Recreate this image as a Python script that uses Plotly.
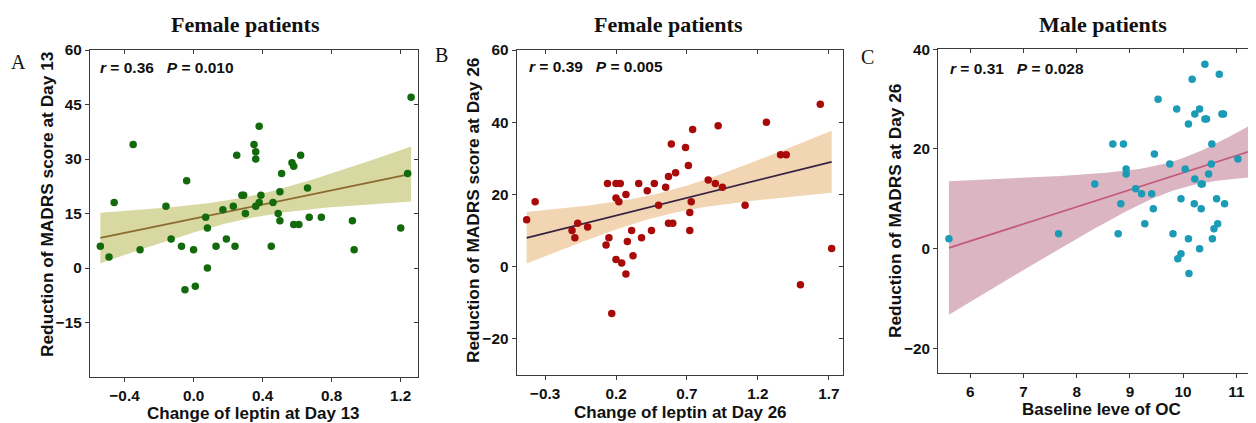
import numpy as np
import plotly.graph_objects as go

# ---------------- data ----------------
# Panel A: female patients, change of leptin at Day 13 vs MADRS reduction at Day 13
a_x = [-0.54, -0.49, -0.46, -0.35, -0.31, -0.16, -0.13, -0.07, -0.05, -0.04,
       0.00, 0.01, 0.07, 0.08, 0.08, 0.13, 0.17, 0.19, 0.23, 0.24,
       0.25, 0.28, 0.29, 0.30, 0.35, 0.36, 0.36, 0.36, 0.38, 0.38,
       0.39, 0.45, 0.46, 0.49, 0.50, 0.50, 0.51, 0.57, 0.58, 0.58,
       0.61, 0.62, 0.66, 0.67, 0.74, 0.92, 0.93, 1.20, 1.24, 1.26]
a_y = [6, 3, 18, 34, 5, 17, 8, 6, -6, 24,
       5, -5, 14, 11, 0, 6, 16, 8, 17, 6,
       31, 20, 20, 15, 34, 32, 30, 17, 18, 39,
       20, 6, 18, 15, 21, 13, 26, 29, 28, 12,
       12, 31, 22, 14, 14, 13, 5, 11, 26, 47]

# Panel B: female patients, change of leptin at Day 26 vs MADRS reduction at Day 26
b_x = [-0.43, -0.37, -0.11, -0.09, -0.07, 0.00, 0.13, 0.14, 0.15, 0.17,
       0.20, 0.20, 0.20, 0.22, 0.23, 0.24, 0.27, 0.28, 0.27, 0.31,
       0.32, 0.36, 0.38, 0.42, 0.45, 0.47, 0.50, 0.55, 0.57, 0.57,
       0.59, 0.60, 0.62, 0.69, 0.71, 0.72, 0.72, 0.73, 0.74, 0.85,
       0.90, 0.92, 0.95, 1.11, 1.26, 1.36, 1.40, 1.50, 1.64, 1.72]
b_y = [13, 18, 10, 8, 12, 11, 6, 23, 8, -13,
       19, 2, 23, 18, 23, 1, -2, 7, 20, 10,
       3, 23, 8, 21, 10, 23, 17, 22, 25, 12,
       34, 12, 26, 33, 28, 15, 10, 18, 38, 24,
       23, 39, 22, 17, 40, 31, 31, -5, 45, 5]

# Panel C: male patients, baseline level of OC vs MADRS reduction at Day 26
c_x = [5.60, 7.66, 8.34, 8.68, 8.78, 8.83, 8.88, 8.93, 8.93, 9.11,
       9.22, 9.28, 9.41, 9.44, 9.46, 9.53, 9.75, 9.81, 9.88, 9.90,
       9.96, 9.96, 10.04, 10.10, 10.10, 10.11, 10.17, 10.21, 10.22, 10.22,
       10.31, 10.31, 10.34, 10.34, 10.36, 10.41, 10.41, 10.44, 10.48, 10.53,
       10.54, 10.55, 10.58, 10.63, 10.65, 10.68, 10.73, 10.76, 10.78, 11.03,
       11.35]
c_y = [2, 3, 13, 21, 3, 9, 21, 16, 15, 12,
       11, 5, 11, 8, 19, 30, 17, 3, 28, -2,
       -1, 10, 16, 2, 25, -5, 34, 9, 14, 27,
       28, 0, 8, 13, 13, 26, 37, 26, 15, 17,
       21, 2, 4, 10, 5, 35, 27, 27, 9, 18,
       35]

titles = ["Female patients", "Female patients", "Male patients"]
letters = ["A", "B", "C"]
stats_text = ["<i>r</i> = 0.36   <i>P</i> = 0.010",
              "<i>r</i> = 0.39   <i>P</i> = 0.005",
              "<i>r</i> = 0.31   <i>P</i> = 0.028"]
x_titles = ["Change of leptin at Day 13", "Change of leptin at Day 26", "Baseline leve of OC"]
y_titles = ["Reduction of MADRS score at Day 13", "Reduction of MADRS score at Day 26",
            "Reduction of MADRS at Day 26"]
x_ticks = [[-0.4, 0.0, 0.4, 0.8, 1.2], [-0.3, 0.2, 0.7, 1.2, 1.7], [6, 7, 8, 9, 10, 11]]
y_ticks = [[-15, 0, 15, 30, 45, 60], [-20, 0, 20, 40, 60], [-20, 0, 20, 40]]

# ---------------- styling ----------------
W, H = 1256, 423
OFF = 8  # page body margin: figure is drawn 8px right/down of the window corner
dot_colors = ["#136a0d", "#a80a0a", "#1b9bb6"]
band_colors = ["#d8d8a2", "#f2d5b2", "#dbb6c2"]
line_colors = ["#8a6a2e", "#3a2446", "#c25a7c"]
x_ranges = [[-0.6, 1.3], [-0.5, 1.8], [5.4, 11.37]]
y_ranges = [[-30, 60], [-30, 60], [-25, 40]]
# plot-area pixel boxes in window coordinates: left, right, top, bottom
boxes = [(90, 418, 50, 377), (516.7, 843, 50, 375), (938.3, 1256, 49.3, 373.3)]
title_x = [245.5, 668, 1103]
letter_pos = [(18, 62), (441, 55), (867, 57)]
stats_x = [98, 527, 948]
stats_y = [68, 67, 69]
xtitle_pos = [(253, 413), (680, 412), (1101, 409)]
ytitle_pos = [(47, 205), (473, 211), (895, 211)]
AX_COL = "#3a3a3a"


def px(xw):
    return (xw - OFF) / W


def py(yw):
    return 1 - (yw - OFF) / H


fig = go.Figure()
datasets = [(a_x, a_y), (b_x, b_y), (c_x, c_y)]
T_CRIT = 2.01
xlabel_font = dict(family="Liberation Sans", size=17, color="#111111", weight="bold")
ylabel_font = dict(family="Liberation Sans", size=17.3, color="#111111", weight="bold")

for i, (xs, ys) in enumerate(datasets):
    xs = np.asarray(xs, float)
    ys = np.asarray(ys, float)
    n = len(xs)
    slope, intercept = np.polyfit(xs, ys, 1)
    resid = ys - (slope * xs + intercept)
    s = np.sqrt(np.sum(resid ** 2) / (n - 2))
    xm = xs.mean()
    sxx = np.sum((xs - xm) ** 2)
    grid = np.linspace(xs.min(), xs.max(), 120)
    fit = slope * grid + intercept
    se = s * np.sqrt(1.0 / n + (grid - xm) ** 2 / sxx)
    lo, hi = fit - T_CRIT * se, fit + T_CRIT * se
    sfx = "" if i == 0 else str(i + 1)
    xa, ya = "x" + sfx, "y" + sfx
    xt, yr = "x" + str(4 + i), "y" + str(7 + i)   # mirror axes (top / right) with inward ticks
    fig.add_trace(go.Scatter(x=np.concatenate([grid, grid[::-1]]),
                             y=np.concatenate([hi, lo[::-1]]),
                             fill="toself", fillcolor=band_colors[i],
                             line=dict(width=0), mode="lines", hoverinfo="skip",
                             showlegend=False, xaxis=xa, yaxis=ya))
    fig.add_trace(go.Scatter(x=grid, y=fit, mode="lines",
                             line=dict(color=line_colors[i], width=1.8),
                             showlegend=False, xaxis=xa, yaxis=ya))
    fig.add_trace(go.Scatter(x=xs, y=ys, mode="markers",
                             marker=dict(color=dot_colors[i], size=7.5, line=dict(width=0)),
                             showlegend=False, xaxis=xa, yaxis=ya))
    # empty traces so the mirror axes are drawn
    fig.add_trace(go.Scatter(x=[None], y=[None], mode="markers", showlegend=False,
                             hoverinfo="skip", xaxis=xt, yaxis=ya))
    if i < 2:
        fig.add_trace(go.Scatter(x=[None], y=[None], mode="markers", showlegend=False,
                                 hoverinfo="skip", xaxis=xa, yaxis=yr))

    l, r, t, b = boxes[i]
    xdom = [px(l), min(px(r), 1.0)]
    ydom = [py(b), py(t)]
    axis_common = dict(linecolor=AX_COL, linewidth=1.3,
                       ticklen=4, tickwidth=1.2, tickcolor=AX_COL,
                       showgrid=False, zeroline=False, automargin=False,
                       tickfont=dict(family="Liberation Sans", size=15.3, color="#111111",
                                     weight="bold"))
    fig.layout["xaxis" + sfx] = dict(axis_common, domain=xdom, range=x_ranges[i],
                                     tickvals=x_ticks[i], anchor=ya, showline=True,
                                     ticks="outside",
                                     tickformat=".1f" if i < 2 else "d", mirror=True)
    fig.layout["yaxis" + sfx] = dict(axis_common, domain=ydom, range=y_ranges[i],
                                     tickvals=y_ticks[i], anchor=xa, showline=True,
                                     ticks="outside", mirror=True if i < 2 else False)
    fig.layout["xaxis" + str(4 + i)] = dict(axis_common, domain=xdom, range=x_ranges[i],
                                            tickvals=x_ticks[i], anchor=ya, overlaying=xa,
                                            side="top", showline=False, ticks="inside",
                                            showticklabels=False)
    if i < 2:
        fig.layout["yaxis" + str(7 + i)] = dict(axis_common, domain=ydom, range=y_ranges[i],
                                                tickvals=y_ticks[i], anchor=xa, overlaying=ya,
                                                side="right", showline=False, ticks="inside",
                                                showticklabels=False)

    # axis titles
    tx, ty = xtitle_pos[i]
    fig.add_annotation(x=px(tx), y=py(ty), xref="paper", yref="paper",
                       text=x_titles[i], showarrow=False,
                       xanchor="center", yanchor="middle", font=xlabel_font)
    yx, yy = ytitle_pos[i]
    fig.add_annotation(x=px(yx), y=py(yy), xref="paper", yref="paper",
                       text=y_titles[i], showarrow=False, textangle=-90,
                       xanchor="center", yanchor="middle", font=ylabel_font)

    fig.add_annotation(x=px(title_x[i]), y=py(25), xref="paper", yref="paper",
                       text="<b>" + titles[i] + "</b>", showarrow=False,
                       xanchor="center", yanchor="middle",
                       font=dict(family="Liberation Serif", size=22, color="#111111"))
    lx, ly = letter_pos[i]
    fig.add_annotation(x=px(lx), y=py(ly), xref="paper", yref="paper",
                       text=letters[i], showarrow=False, xanchor="center", yanchor="middle",
                       font=dict(family="Liberation Serif", size=20, color="#111111"))
    fig.add_annotation(x=px(stats_x[i]), y=py(stats_y[i]), xref="paper", yref="paper",
                       text="<b>" + stats_text[i] + "</b>", showarrow=False,
                       xanchor="left", yanchor="middle",
                       font=dict(family="Liberation Sans", size=15.5, color="#111111"))

fig.update_layout(width=W, height=H, margin=dict(l=0, r=0, t=0, b=0),
                  paper_bgcolor="white", plot_bgcolor="white",
                  template="none", showlegend=False)

fig.write_html("out.html")
